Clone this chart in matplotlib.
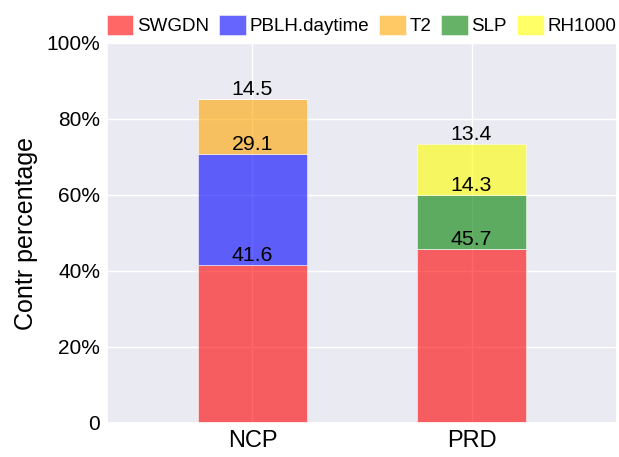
import matplotlib
matplotlib.use("Agg")
import matplotlib.pyplot as plt
import numpy as np
import seaborn as sns
from matplotlib.ticker import FuncFormatter

regions = ["NCP", "PRD"]
series_names = ["SWGDN", "PBLH.daytime", "T2", "SLP", "RH1000"]
SWGDN = [41.6, 45.7]
PBLH_daytime = [29.1, 0.0]
T2 = [14.5, 0.0]
SLP = [0.0, 14.3]
RH1000 = [0.0, 13.4]
series_values = [SWGDN, PBLH_daytime, T2, SLP, RH1000]
colors = ["red", "blue", "orange", "green", "yellow"]
yticks = [0, 20, 40, 60, 80, 100]

sns.set_theme(style="darkgrid")
plt.rcParams['font.family'] = ['Liberation Sans', 'DejaVu Sans']
for k in ['text.color', 'axes.labelcolor', 'xtick.color', 'ytick.color']:
    plt.rcParams[k] = 'black'

fig = plt.figure(figsize=(6.19, 4.57), dpi=100)
ax = fig.add_axes([107/619, 34/457, 510/619, 380/457])

x = np.arange(len(regions))
bottom = np.zeros(len(regions))
for name, vals, c in zip(series_names, series_values, colors):
    vals = np.array(vals)
    ax.bar(x, vals, width=0.5, bottom=bottom, color=c, alpha=0.6,
           edgecolor='white', linewidth=0.6, label=name, zorder=2)
    top = bottom + vals
    for xi, v, t in zip(x, vals, top):
        if v > 0:
            ax.text(xi, t, f"{v:.1f}", ha='center', va='bottom',
                    fontsize=15.3, color='black', zorder=3)
    bottom = top

ax.set_xlim(-0.664, 1.664)
ax.set_ylim(0, 100)
ax.set_xticks(x)
ax.set_xticklabels(regions, fontsize=17)
ax.set_yticks(yticks)
ax.yaxis.set_major_formatter(FuncFormatter(lambda v, p: '0' if v == 0 else f'{v:.0f}%'))
ax.tick_params(axis='y', labelsize=15, pad=5, length=0)
ax.tick_params(axis='x', pad=5, length=0)
ax.set_ylabel("Contr percentage", fontsize=18, labelpad=6)
ax.set_axisbelow(True)

ax.legend(loc='lower left', bbox_to_anchor=(0, 1.02), ncol=5, frameon=False,
          fontsize=13.5, handlelength=1.4, handleheight=1.2, handletextpad=0.2,
          columnspacing=0.55, borderpad=0, borderaxespad=0)

fig.savefig("out.png", dpi=100)
